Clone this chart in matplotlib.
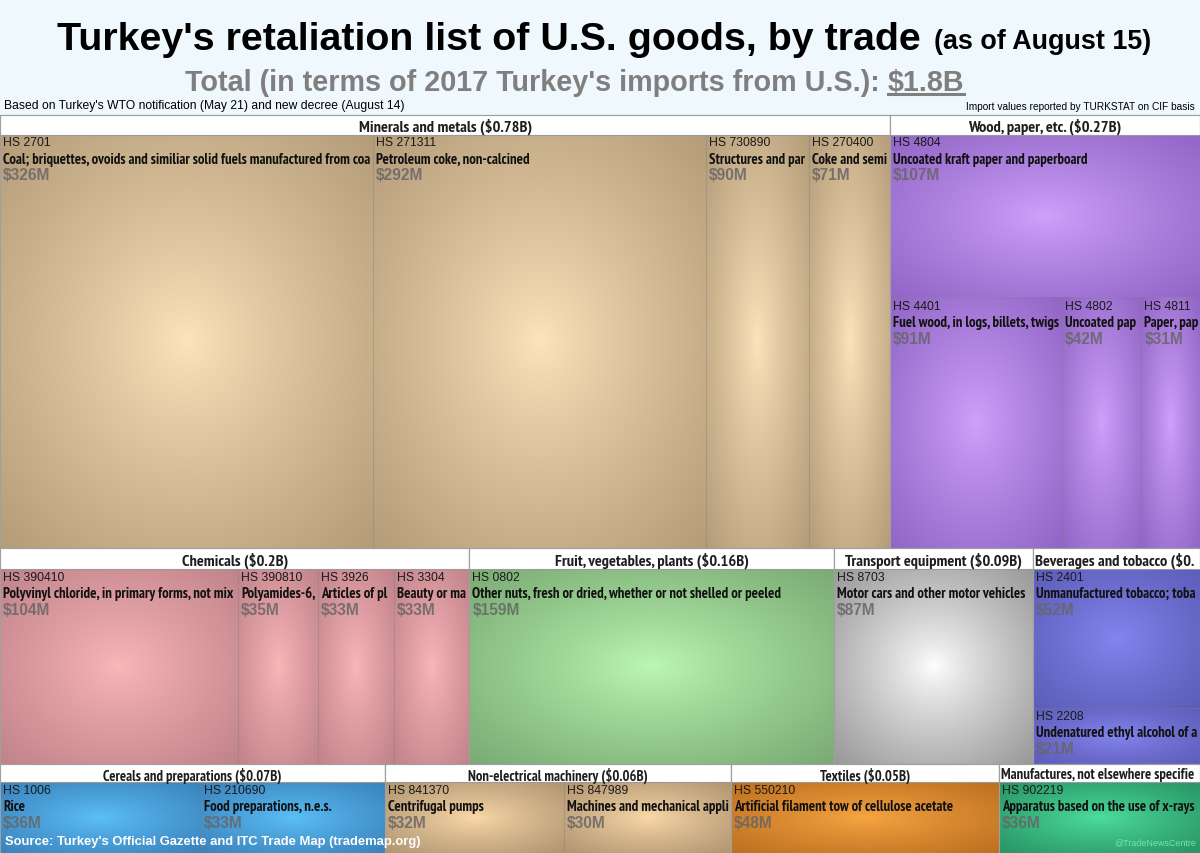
import numpy as np
import matplotlib.pyplot as plt
from matplotlib.patches import Rectangle
from matplotlib.colors import to_rgb
from matplotlib import font_manager
from matplotlib.font_manager import FontProperties

W, H = 1200, 854

# ---- data ----
group_names = ["Minerals and metals", "Wood, paper, etc.", "Chemicals",
               "Fruit, vegetables, plants", "Transport equipment", "Beverages and tobacco",
               "Cereals and preparations", "Non-electrical machinery", "Textiles",
               "Manufactures, not elsewhere specified"]

hs_codes = [["2701", "271311", "730890", "270400"],
            ["4804", "4401", "4802", "4811"],
            ["390410", "390810", "3926", "3304"],
            ["0802"],
            ["8703"],
            ["2401", "2208"],
            ["1006", "210690"],
            ["841370", "847989"],
            ["550210"],
            ["902219"]]

descriptions = [
    ["Coal; briquettes, ovoids and similiar solid fuels manufactured from coal",
     "Petroleum coke, non-calcined",
     "Structures and parts of structures, of iron or steel",
     "Coke and semi-coke of coal, of lignite or of peat"],
    ["Uncoated kraft paper and paperboard",
     "Fuel wood, in logs, billets, twigs, faggots or similar forms",
     "Uncoated paper and paperboard, for writing or printing",
     "Paper, paperboard, cellulose wadding and webs of cellulose fibres"],
    ["Polyvinyl chloride, in primary forms, not mixed with any other substances",
     "Polyamides-6, -11, -12, -6,6, -6,9, -6,10 or -6,12",
     "Articles of plastics",
     "Beauty or make-up preparations"],
    ["Other nuts, fresh or dried, whether or not shelled or peeled"],
    ["Motor cars and other motor vehicles principally designed for the transport of persons"],
    ["Unmanufactured tobacco; tobacco refuse",
     "Undenatured ethyl alcohol of an alcoholic strength of < 80%"],
    ["Rice", "Food preparations, n.e.s."],
    ["Centrifugal pumps", "Machines and mechanical appliances having individual functions"],
    ["Artificial filament tow of cellulose acetate"],
    ["Apparatus based on the use of x-rays"],
]

# 2017 Turkey imports from U.S., million USD
values = [[326, 292, 90, 71],
          [107, 91, 42, 31],
          [104, 35, 33, 33],
          [159],
          [87],
          [52, 21],
          [36, 33],
          [32, 30],
          [48],
          [36]]

# treemap arrangement: groups per band, and how each group's items are split in rows
group_bands = [[0, 1], [2, 3, 4, 5], [6, 7, 8, 9]]
item_rows = [[4], [1, 3], [4], [1], [1], [1, 1], [2], [2], [1], [1]]

# ---- styles ----
grad_colors = [("#fce4bc", "#b59c79"),   # minerals
               ("#cfa2fb", "#9165c6"),   # wood
               ("#fbb7ba", "#c0838a"),   # chemicals
               ("#bdf8b5", "#79aa72"),   # fruit
               ("#ffffff", "#989898"),   # transport
               ("#8585f0", "#5c5cb8"),   # beverages
               ("#5dc0f8", "#3a82bb"),   # cereals
               ("#fbd9a9", "#b09571"),   # machinery
               ("#f7a642", "#bd6f20"),   # textiles
               ("#4edea0", "#289463")]   # manufactures
band_header = [20, 21, 18]
band_header_fs = [11.8, 11.8, 10.5]


def pick_narrow():
    pref = []
    for f in font_manager.fontManager.ttflist:
        bold = f.weight in ("bold", 700) or (isinstance(f.weight, int) and f.weight >= 600)
        if not bold:
            continue
        if "Narrow" in f.name:
            pref.append((0, f.fname))
        elif f.stretch in ("condensed", "semi-condensed") and f.name == "DejaVu Sans":
            pref.append((1, f.fname))
    if pref:
        return FontProperties(fname=sorted(pref)[0][1])
    return FontProperties(family="Liberation Sans", weight="bold")


narrow_fp = pick_narrow()
plain = "Liberation Sans"

fig = plt.figure(figsize=(12, 8.54), dpi=100)
ax = fig.add_axes([0, 0, 1, 1])
ax.set_xlim(0, W)
ax.set_ylim(H, 0)
ax.axis("off")
fig.canvas.draw()
renderer = fig.canvas.get_renderer()


def width(t):
    return t.get_window_extent(renderer).width


def fit(t, avail):
    # cut the text where the cell ends
    s = t.get_text()
    if width(t) <= avail:
        return
    lo, hi = 0, len(s)
    while lo < hi:
        mid = (lo + hi + 1) // 2
        t.set_text(s[:mid])
        if width(t) <= avail:
            lo = mid
        else:
            hi = mid - 1
    t.set_text(s[:lo])


# header background
ax.add_patch(Rectangle((0, 0), W, 116, facecolor="#eff8fc", edgecolor="none", zorder=0))

title = ax.text(57, 50, "Turkey's retaliation list of U.S. goods, by trade", fontsize=28.4,
                fontweight="bold", family=plain, color="black", va="baseline", ha="left")
bb = title.get_window_extent(renderer)
ax.text(bb.x1 + 13, 49, "(as of August 15)", fontsize=19.4, fontweight="bold", family=plain,
        color="black", va="baseline", ha="left")

sub = ax.text(185, 91, "Total (in terms of 2017 Turkey's imports from U.S.): ", fontsize=20.7,
              fontweight="bold", family=plain, color="#7f7f7f", va="baseline", ha="left")
bb = sub.get_window_extent(renderer)
tot = sum(sum(v) for v in values)
amt = ax.text(bb.x1, 91, "$%.1fB" % (tot / 1000), fontsize=20.7, fontweight="bold",
              family=plain, color="#7f7f7f", va="baseline", ha="left")
bb2 = amt.get_window_extent(renderer)
ax.plot([bb2.x0, bb2.x1], [95, 95], color="#7f7f7f", lw=2.2)

ax.text(4, 106, "Based on Turkey's WTO notification (May 21) and new decree (August 14)",
        fontsize=8.75, family=plain, color="black", va="center", ha="left")
ax.text(1195, 107, "Import values reported by TURKSTAT on CIF basis", fontsize=7.3,
        family=plain, color="black", va="center", ha="right")


def gradient(x, y, w, h, c0, c1):
    nx, ny = max(int(w), 2), max(int(h), 2)
    gx = np.linspace(-1, 1, nx)
    gy = np.linspace(-1, 1, ny)
    X, Y = np.meshgrid(gx, gy)
    r = np.clip(np.sqrt(X ** 2 + Y ** 2) / np.sqrt(2), 0, 1) ** 0.85
    a, b = np.array(to_rgb(c0)), np.array(to_rgb(c1))
    img = a[None, None, :] * (1 - r[..., None]) + b[None, None, :] * r[..., None]
    ax.imshow(img, extent=(x, x + w, y + h, y), origin="upper", aspect="auto",
              interpolation="bilinear", zorder=1)


def money(v):
    s = "%.2f" % (v / 1000)
    return s.rstrip("0").rstrip(".")


top = 116
y = top
for bi, band in enumerate(group_bands):
    band_sum = sum(sum(values[g]) for g in band)
    bh = (H - top) * band_sum / tot
    x = 0
    for g in band:
        gsum = sum(values[g])
        gw = W * gsum / band_sum
        hh = band_header[bi]
        # group header
        ax.add_patch(Rectangle((x, y), gw, hh, facecolor="white", edgecolor="#9a9a9a",
                               lw=0.8, zorder=3))
        lab = "%s ($%sB)" % (group_names[g], money(gsum))
        fp = narrow_fp.copy()
        fp.set_size(band_header_fs[bi])
        t = ax.text(x + gw / 2, y + hh / 2 + 1, lab, fontproperties=fp,
                    color="#1e1e1e", ha="center", va="center", zorder=4)
        if width(t) > gw - 4:
            t.set_ha("left")
            t.set_x(x + 2)
            fit(t, gw - 3)
        # items
        cy = y + hh
        ch = bh - hh
        idx = 0
        for n in item_rows[g]:
            vals = values[g][idx:idx + n]
            rh = ch * sum(vals) / gsum
            cx = x
            for k in range(n):
                i = idx + k
                cw = gw * vals[k] / sum(vals)
                c0, c1 = grad_colors[g]
                gradient(cx, cy, cw, rh, c0, c1)
                ax.add_patch(Rectangle((cx, cy), cw, rh, facecolor="none",
                                       edgecolor=(0.5, 0.5, 0.5, 0.25), lw=0.6, zorder=2))
                dfp = narrow_fp.copy()
                dfp.set_size(10.6)
                items = [
                    ax.text(cx + 3, cy + 7.5, "HS " + hs_codes[g][i], fontsize=8.8,
                            family=plain, color="#1a1a1a", va="center", ha="left"),
                    ax.text(cx + 3, cy + 24, descriptions[g][i], fontproperties=dfp,
                            color="#111111", va="center", ha="left"),
                    ax.text(cx + 3, cy + 40, "$%dM" % vals[k], fontsize=11.2,
                            fontweight="bold", family=plain, color=(0.4, 0.4, 0.4, 0.85),
                            va="center", ha="left"),
                ]
                for tx in items:
                    tx.set_zorder(5)
                    fit(tx, cw - 4)
                cx += cw
            cy += rh
            idx += n
        ax.add_patch(Rectangle((x, y), gw, bh, facecolor="none", edgecolor="#a0a0a0",
                               lw=0.8, zorder=3))
        x += gw
    y += bh

ax.text(5, 842, "Source: Turkey's Official Gazette and ITC Trade Map (trademap.org)",
        fontsize=9.35, fontweight="bold", family=plain, color="white", va="center",
        ha="left", zorder=6)
ax.text(1196, 843, "@TradeNewsCentre", fontsize=6.5, family=plain, color="#6fe8a6",
        va="center", ha="right", zorder=6)

fig.savefig("out.png", dpi=100)
